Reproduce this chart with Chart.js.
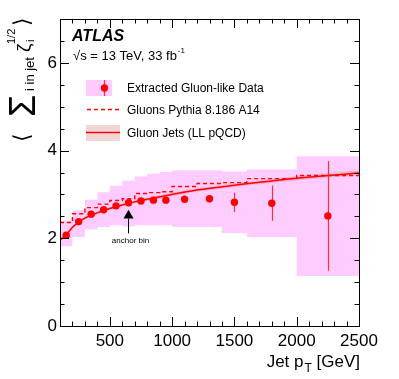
<!DOCTYPE html>
<html>
<head>
<meta charset="utf-8">
<script src="https://cdn.jsdelivr.net/npm/chart.js@4.4.0/dist/chart.umd.min.js"></script>
<style>
html, body { margin: 0; padding: 0; background: #fff; }
canvas { display: block; }
</style>
</head>
<body>
<canvas id="chart" width="399" height="379"></canvas>
<script>
// bin edges of the measurement (GeV)
const binEdges = [100, 200, 300, 400, 500, 600, 700, 800, 900, 1000, 1200, 1400, 1600, 2000, 2500];

// extracted gluon-like data
const dataPt = [150, 250, 350, 450, 550, 650, 750, 850, 950, 1100, 1300, 1500, 1800, 2250];
const dataVal = [2.07, 2.38, 2.55, 2.65, 2.74, 2.81, 2.85, 2.87, 2.87, 2.89, 2.90, 2.82, 2.80, 2.51];
const dataStat = [0.02, 0.02, 0.02, 0.02, 0.02, 0.02, 0.03, 0.03, 0.04, 0.05, 0.08, 0.22, 0.40, 1.25];
const sysUp = [2.40, 2.64, 2.88, 3.05, 3.20, 3.32, 3.41, 3.47, 3.51, 3.55, 3.55, 3.52, 3.57, 3.87];
const sysDown = [1.82, 2.03, 2.20, 2.26, 2.30, 2.27, 2.30, 2.30, 2.30, 2.26, 2.26, 2.12, 2.03, 1.14];

// Pythia 8.186 A14 gluons (per bin)
const pythiaVal = [2.36, 2.56, 2.70, 2.78, 2.86, 2.90, 3.02, 3.04, 3.06, 3.18, 3.25, 3.27, 3.36, 3.43];

// LL pQCD gluon curve and its band
const llPt = [100, 150, 200, 250, 300, 400, 500, 600, 700, 800, 1000, 1200, 1500, 2000, 2500];
const llVal = [1.96, 2.08, 2.25, 2.37, 2.46, 2.58, 2.68, 2.76, 2.83, 2.89, 3.00, 3.10, 3.21, 3.37, 3.49];
const llUp = [1.99, 2.11, 2.28, 2.40, 2.49, 2.61, 2.71, 2.79, 2.86, 2.93, 3.04, 3.14, 3.25, 3.42, 3.55];
const llDown = [1.93, 2.05, 2.22, 2.34, 2.43, 2.55, 2.65, 2.73, 2.80, 2.85, 2.96, 3.06, 3.17, 3.32, 3.43];

const xTicks = [500, 1000, 1500, 2000, 2500];
const yTicks = [0, 2, 4, 6];

const FONT = '"Liberation Sans", Arial, Helvetica, sans-serif';
const PINK = '#ffccff';
const RED = '#ff0000';
const LLBAND = 'rgba(210,120,120,0.3)';

function stepPoints(vals) {
    const pts = vals.map((v, i) => ({ x: binEdges[i], y: v }));
    pts.push({ x: binEdges[binEdges.length - 1], y: vals[vals.length - 1] });
    return pts;
}

function zip(xs, ys) {
    return xs.map((x, i) => ({ x: x, y: ys[i] }));
}

// error bars under the markers
const errorBars = {
    id: 'errorBars',
    beforeDatasetDraw(chart, args) {
        if (args.index !== 0) return;
        const ctx = chart.ctx, xs = chart.scales.x, ys = chart.scales.y;
        ctx.save();
        ctx.strokeStyle = '#ff3030';
        ctx.lineWidth = 1.2;
        dataPt.forEach((pt, i) => {
            const px = Math.round(xs.getPixelForValue(pt)) + 0.5;
            ctx.beginPath();
            ctx.moveTo(px, ys.getPixelForValue(dataVal[i] + dataStat[i]));
            ctx.lineTo(px, ys.getPixelForValue(dataVal[i] - dataStat[i]));
            ctx.stroke();
        });
        ctx.restore();
    }
};

// ROOT style frame, ticks, labels and legend
const decorations = {
    id: 'decorations',
    afterDatasetsDraw(chart) {
        const ctx = chart.ctx, xs = chart.scales.x, ys = chart.scales.y;
        const a = chart.chartArea;
        ctx.save();
        ctx.strokeStyle = '#000';
        ctx.lineWidth = 1;
        ctx.strokeRect(Math.round(a.left) + 0.5, Math.round(a.top) + 0.5,
            Math.round(a.right - a.left), Math.round(a.bottom - a.top));

        ctx.beginPath();
        for (let v = 100; v <= 2500; v += 100) {
            const px = Math.round(xs.getPixelForValue(v)) + 0.5;
            const len = v % 500 === 0 ? 9 : 4.5;
            ctx.moveTo(px, a.bottom); ctx.lineTo(px, a.bottom - len);
            ctx.moveTo(px, a.top); ctx.lineTo(px, a.top + len);
        }
        for (let v = 0; v <= 7; v += 0.5) {
            const py = Math.round(ys.getPixelForValue(v)) + 0.5;
            const len = v % 2 === 0 ? 9 : 4.5;
            ctx.moveTo(a.left, py); ctx.lineTo(a.left + len, py);
            ctx.moveTo(a.right, py); ctx.lineTo(a.right - len, py);
        }
        ctx.stroke();

        // anchor bin arrow
        const ax = xs.getPixelForValue(650);
        const tip = ys.getPixelForValue(2.65), base = ys.getPixelForValue(2.45), tail = ys.getPixelForValue(2.11);
        ctx.fillStyle = '#000';
        ctx.beginPath();
        ctx.moveTo(ax, tip); ctx.lineTo(ax - 5, base); ctx.lineTo(ax + 5, base); ctx.closePath();
        ctx.fill();
        ctx.beginPath();
        ctx.moveTo(ax, base); ctx.lineTo(ax, tail);
        ctx.stroke();
        ctx.font = '8px ' + FONT;
        ctx.textAlign = 'center';
        ctx.textBaseline = 'middle';
        ctx.fillText('anchor bin', ax + 2, 241);

        // ATLAS label
        ctx.textAlign = 'left';
        ctx.textBaseline = 'alphabetic';
        ctx.font = 'italic bold 16px ' + FONT;
        ctx.fillText('ATLAS', 72, 41);
        ctx.font = '13px ' + FONT;
        ctx.fillText('\u221As = 13 TeV, 33 fb', 73, 60);
        const w = ctx.measureText('\u221As = 13 TeV, 33 fb').width;
        ctx.font = '8px ' + FONT;
        ctx.fillText('-1', 73 + w + 1, 53);

        // legend
        ctx.fillStyle = PINK;
        ctx.fillRect(86, 80, 26, 16);
        ctx.strokeStyle = '#ff3030';
        ctx.lineWidth = 1.2;
        ctx.beginPath(); ctx.moveTo(104.5, 80); ctx.lineTo(104.5, 96); ctx.stroke();
        ctx.fillStyle = RED;
        ctx.beginPath(); ctx.arc(104.5, 88, 3.7, 0, Math.PI * 2); ctx.fill();

        ctx.strokeStyle = RED;
        ctx.lineWidth = 1.5;
        ctx.setLineDash([4, 3]);
        ctx.beginPath(); ctx.moveTo(87, 109.5); ctx.lineTo(119, 109.5); ctx.stroke();
        ctx.setLineDash([]);

        ctx.fillStyle = LLBAND;
        ctx.fillRect(86, 125, 34, 16);
        ctx.strokeStyle = RED;
        ctx.lineWidth = 1.5;
        ctx.beginPath(); ctx.moveTo(86, 132.5); ctx.lineTo(120, 132.5); ctx.stroke();

        ctx.fillStyle = '#000';
        ctx.font = '12px ' + FONT;
        ctx.fillText('Extracted Gluon-like Data', 127, 92);
        ctx.fillText('Gluons Pythia 8.186 A14', 127, 114);
        ctx.fillText('Gluon Jets (LL pQCD)', 127, 137);

        // x axis title
        ctx.textAlign = 'right';
        ctx.font = '17px ' + FONT;
        const tail2 = ' [GeV]';
        const wTail = ctx.measureText(tail2).width;
        ctx.fillText(tail2, a.right + 1, 367);
        ctx.font = '12px ' + FONT;
        const wT = ctx.measureText('T').width;
        ctx.fillText('T', a.right + 1 - wTail, 372);
        ctx.font = '17px ' + FONT;
        ctx.fillText('Jet p', a.right + 1 - wTail - wT - 1, 367);

        // y axis title, rotated; local x runs upward from screen y = 147
        ctx.translate(35, 147);
        ctx.rotate(-Math.PI / 2);
        ctx.textAlign = 'left';
        ctx.font = '22px "DejaVu Sans", sans-serif';
        ctx.fillText('\u27E8', 5, -6);
        ctx.font = '36px ' + FONT;
        ctx.fillText('\u03A3', 30, 0);
        ctx.font = '13px ' + FONT;
        ctx.fillText('i in jet', 56, -1);
        ctx.font = '19px ' + FONT;
        ctx.fillText('\u03B6', 95, -5);
        ctx.font = '11px ' + FONT;
        ctx.fillText('i', 105, -1);
        ctx.fillText('1/2', 103, -20);
        ctx.font = '22px "DejaVu Sans", sans-serif';
        ctx.fillText('\u27E9', 121, -6);
        ctx.restore();
    }
};

new Chart(document.getElementById('chart'), {
    type: 'line',
    data: {
        datasets: [
            {
                data: zip(dataPt, dataVal),
                showLine: false,
                pointRadius: 3.7,
                pointBackgroundColor: RED,
                pointBorderWidth: 0,
                order: 0
            },
            {
                data: zip(llPt, llVal),
                borderColor: RED,
                borderWidth: 1.5,
                pointRadius: 0,
                cubicInterpolationMode: 'monotone',
                order: 1
            },
            {
                data: stepPoints(pythiaVal),
                borderColor: RED,
                borderWidth: 1.4,
                borderDash: [4, 3],
                pointRadius: 0,
                stepped: true,
                order: 2
            },
            {
                data: zip(llPt, llUp),
                borderWidth: 0,
                pointRadius: 0,
                cubicInterpolationMode: 'monotone',
                fill: '+1',
                backgroundColor: LLBAND,
                order: 3
            },
            {
                data: zip(llPt, llDown),
                borderWidth: 0,
                pointRadius: 0,
                cubicInterpolationMode: 'monotone',
                order: 4
            },
            {
                data: stepPoints(sysUp),
                borderWidth: 0,
                pointRadius: 0,
                stepped: true,
                fill: '+1',
                backgroundColor: PINK,
                order: 5
            },
            {
                data: stepPoints(sysDown),
                borderWidth: 0,
                pointRadius: 0,
                stepped: true,
                order: 6
            }
        ]
    },
    options: {
        responsive: false,
        animation: false,
        devicePixelRatio: 1,
        layout: { padding: { top: 19, right: 40, left: 0, bottom: 0 } },
        plugins: {
            legend: { display: false },
            tooltip: { enabled: false }
        },
        scales: {
            x: {
                type: 'linear',
                min: 100,
                max: 2500,
                grid: { display: false, drawTicks: false },
                border: { display: false },
                afterBuildTicks: (s) => { s.ticks = xTicks.map(v => ({ value: v })); },
                afterFit: (s) => { s.height = 53; },
                ticks: { color: '#000', font: { family: FONT, size: 17 }, padding: 5, maxRotation: 0,
                    callback: (v) => String(v) }
            },
            y: {
                min: 0,
                max: 7,
                grid: { display: false, drawTicks: false },
                border: { display: false },
                afterBuildTicks: (s) => { s.ticks = yTicks.map(v => ({ value: v })); },
                afterFit: (s) => { s.width = 60; },
                ticks: { color: '#000', font: { family: FONT, size: 17 }, padding: 3,
                    callback: (v) => String(v) }
            }
        }
    },
    plugins: [errorBars, decorations]
});
</script>
</body>
</html>
